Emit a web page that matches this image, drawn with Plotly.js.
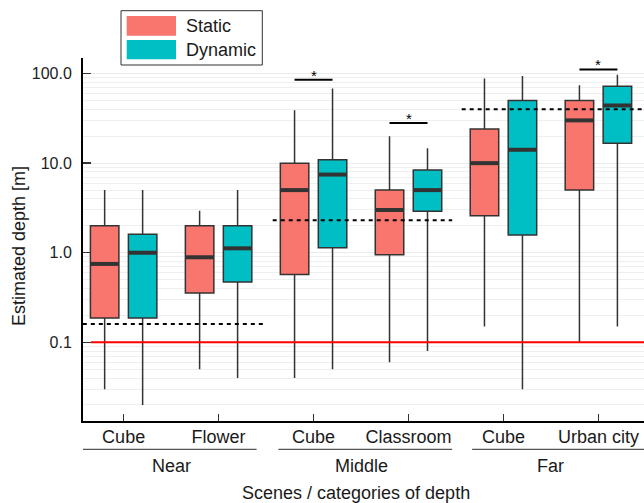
<!DOCTYPE html>
<html><head><meta charset="utf-8">
<script src="https://cdn.plot.ly/plotly-3.0.1.min.js"></script>
<style>html,body{margin:0;padding:0;background:#fff}</style></head>
<body><div id="chart" style="width:644px;height:503px"></div>
<script>
// ---- data ----
const groups = ["Near", "Middle", "Far"];
const scenes = ["Cube", "Flower", "Cube", "Classroom", "Cube", "Urban city"];
const groupCenters = [0.5, 2.5, 4.5];
const staticLow  = [0.030, 0.050, 0.040, 0.060, 0.15, 0.10];
const staticQ1   = [0.187, 0.355, 0.57, 0.95, 2.58, 5.0];
const staticMed  = [0.75, 0.89, 5.0, 3.0, 10.0, 30.0];
const staticQ3   = [2.0, 2.0, 10.0, 5.0, 24.0, 50.0];
const staticHigh = [5.0, 2.95, 39.0, 20.0, 88.0, 74.0];
const dynLow  = [0.020, 0.040, 0.050, 0.080, 0.030, 0.15];
const dynQ1   = [0.187, 0.47, 1.14, 2.9, 1.58, 16.7];
const dynMed  = [1.0, 1.12, 7.45, 5.0, 14.1, 44.0];
const dynQ3   = [1.61, 2.0, 10.9, 8.4, 50.0, 72.0];
const dynHigh = [5.0, 5.0, 68.0, 14.7, 94.0, 97.0];
const groundTruth = [0.16, 2.3, 40];
const sigScenes = [2, 3, 5];
const sigLevel = [85, 28, 111];
const minDepth = 0.1;
const yTickVals = [0.1, 1, 10, 100];
const yTickText = ["0.1", "1.0", "10.0", "100.0"];

// ---- layout constants ----
const W = 644, H = 503, L = 83, R = 644, T = 58, B = 421;
const xRange = [-0.428, 5.48];
const yRange = [Math.log10(0.01325), Math.log10(149)];
const off = 0.2, bw = 0.3;
const gtSpans = [[-0.43, 1.47], [1.57, 3.46], [3.56, 5.7]];
const lineSpans = [[-0.43, 1.40], [1.63, 3.46], [3.67, 5.7]];
const cS = "#F8766D", cD = "#00BFC4", dark = "#333333";
const FONT = "Liberation Sans, Arial, sans-serif";
const idx = scenes.map((_, i) => i);
const px2paperX = p => (p - L) / (R - L);
const px2paperY = p => (B - p) / (B - T);
const x2paper = x => (x - xRange[0]) / (xRange[1] - xRange[0]);

function boxTrace(name, pos, low, q1, med, q3, high, color) {
  return {
    type: "box", name: name, x: pos, q1: q1, median: med, q3: q3,
    lowerfence: low, upperfence: high, width: bw, boxpoints: false,
    whiskerwidth: 0, fillcolor: color, line: {color: dark, width: 1.5},
    showlegend: false, hoverinfo: "skip"
  };
}
const xs = idx.map(i => i - off), xd = idx.map(i => i + off);
const data = [
  boxTrace("Static", xs, staticLow, staticQ1, staticMed, staticQ3, staticHigh, cS),
  boxTrace("Dynamic", xd, dynLow, dynQ1, dynMed, dynQ3, dynHigh, cD),
  {type: "scatter", mode: "markers", x: xs.concat(xd), y: staticMed.concat(dynMed),
   marker: {symbol: "line-ew", size: 20.3, line: {color: dark, width: 4}},
   showlegend: false, hoverinfo: "skip"}
];

const shapes = [];
const annotations = [];
// red minimum-depth line
shapes.push({type: "line", xref: "paper", yref: "y", x0: px2paperX(91), x1: 1, y0: minDepth, y1: minDepth,
  line: {color: "rgb(255,0,0)", width: 2}, layer: "above"});
// ground-truth dashed lines
groundTruth.forEach((g, k) => shapes.push({type: "line", xref: "x", yref: "y",
  x0: gtSpans[k][0], x1: gtSpans[k][1], y0: g, y1: g,
  line: {color: "#000", width: 2, dash: "4px,4px"}, layer: "above"}));
// significance bars
sigScenes.forEach((s, k) => {
  shapes.push({type: "line", xref: "x", yref: "y", x0: s - off, x1: s + off,
    y0: sigLevel[k], y1: sigLevel[k], line: {color: "#000", width: 2}, layer: "above"});
  annotations.push({xref: "x", yref: "y", x: s, y: Math.log10(sigLevel[k]), text: "*",
    showarrow: false, yanchor: "bottom", yshift: -6, font: {family: FONT, size: 15, color: "#000"}});
});
// group labels + underlines
groups.forEach((g, k) => {
  shapes.push({type: "line", xref: "paper", yref: "paper",
    x0: Math.max(x2paper(lineSpans[k][0]), 0), x1: Math.min(x2paper(lineSpans[k][1]), 1.02),
    y0: px2paperY(449.3), y1: px2paperY(449.3), line: {color: "#555", width: 1.2}});
  annotations.push({xref: "x", yref: "paper", x: groupCenters[k], y: px2paperY(465.5),
    text: g, showarrow: false, yanchor: "middle", font: {family: FONT, size: 18, color: "#1a1a1a"}});
});
// axis titles
annotations.push({xref: "paper", yref: "paper", x: px2paperX(355.5), y: px2paperY(493),
  text: "Scenes / categories of depth", showarrow: false, yanchor: "middle",
  font: {family: FONT, size: 18, color: "#1a1a1a"}});
annotations.push({xref: "paper", yref: "paper", x: px2paperX(19), y: px2paperY(246),
  text: "Estimated depth [m]", textangle: -90, showarrow: false, xanchor: "center", yanchor: "middle",
  font: {family: FONT, size: 18, color: "#1a1a1a"}});
// legend (drawn)
shapes.push({type: "rect", xref: "paper", yref: "paper", x0: px2paperX(121), x1: px2paperX(262.3),
  y0: px2paperY(10.7), y1: px2paperY(65), line: {color: "#333", width: 1}, fillcolor: "#fff"});
[["Static", cS, 16, 35.7, 26], ["Dynamic", cD, 40, 59.3, 50]].forEach(e => {
  shapes.push({type: "rect", xref: "paper", yref: "paper", x0: px2paperX(126.7), x1: px2paperX(176),
    y0: px2paperY(e[2]), y1: px2paperY(e[3]), line: {width: 0}, fillcolor: e[1]});
  annotations.push({xref: "paper", yref: "paper", x: px2paperX(184), y: px2paperY(e[4]),
    text: e[0], showarrow: false, xanchor: "left", yanchor: "middle",
    font: {family: FONT, size: 18, color: "#1a1a1a"}});
});

const layout = {
  width: W, height: H, margin: {l: L, r: W - R, t: T, b: H - B},
  paper_bgcolor: "#fff", plot_bgcolor: "#fff", showlegend: false,
  font: {family: FONT, size: 18, color: "#1a1a1a"},
  xaxis: {range: xRange, tickvals: idx, ticktext: scenes, ticks: "inside", ticklen: 7,
    tickwidth: 1.5, tickcolor: "#333", showline: true, linecolor: "#000", linewidth: 2,
    showgrid: false, zeroline: false, tickfont: {family: FONT, size: 18, color: "#1a1a1a"},
    ticklabelstandoff: -2, fixedrange: true},
  yaxis: {type: "log", range: yRange, tickvals: yTickVals, ticktext: yTickText,
    ticks: "inside", ticklen: 8, tickwidth: 1.5, tickcolor: "#333", showline: true,
    linecolor: "#000", linewidth: 2, showgrid: true, gridcolor: "#ebebeb", gridwidth: 1,
    zeroline: false, tickfont: {family: FONT, size: 16, color: "#222"}, ticklabelstandoff: 6,
    minor: {dtick: "D1", showgrid: true, gridcolor: "#efefef", gridwidth: 1, ticks: ""},
    fixedrange: true},
  shapes: shapes, annotations: annotations
};
Plotly.newPlot("chart", data, layout, {staticPlot: true, displayModeBar: false});
</script></body></html>
